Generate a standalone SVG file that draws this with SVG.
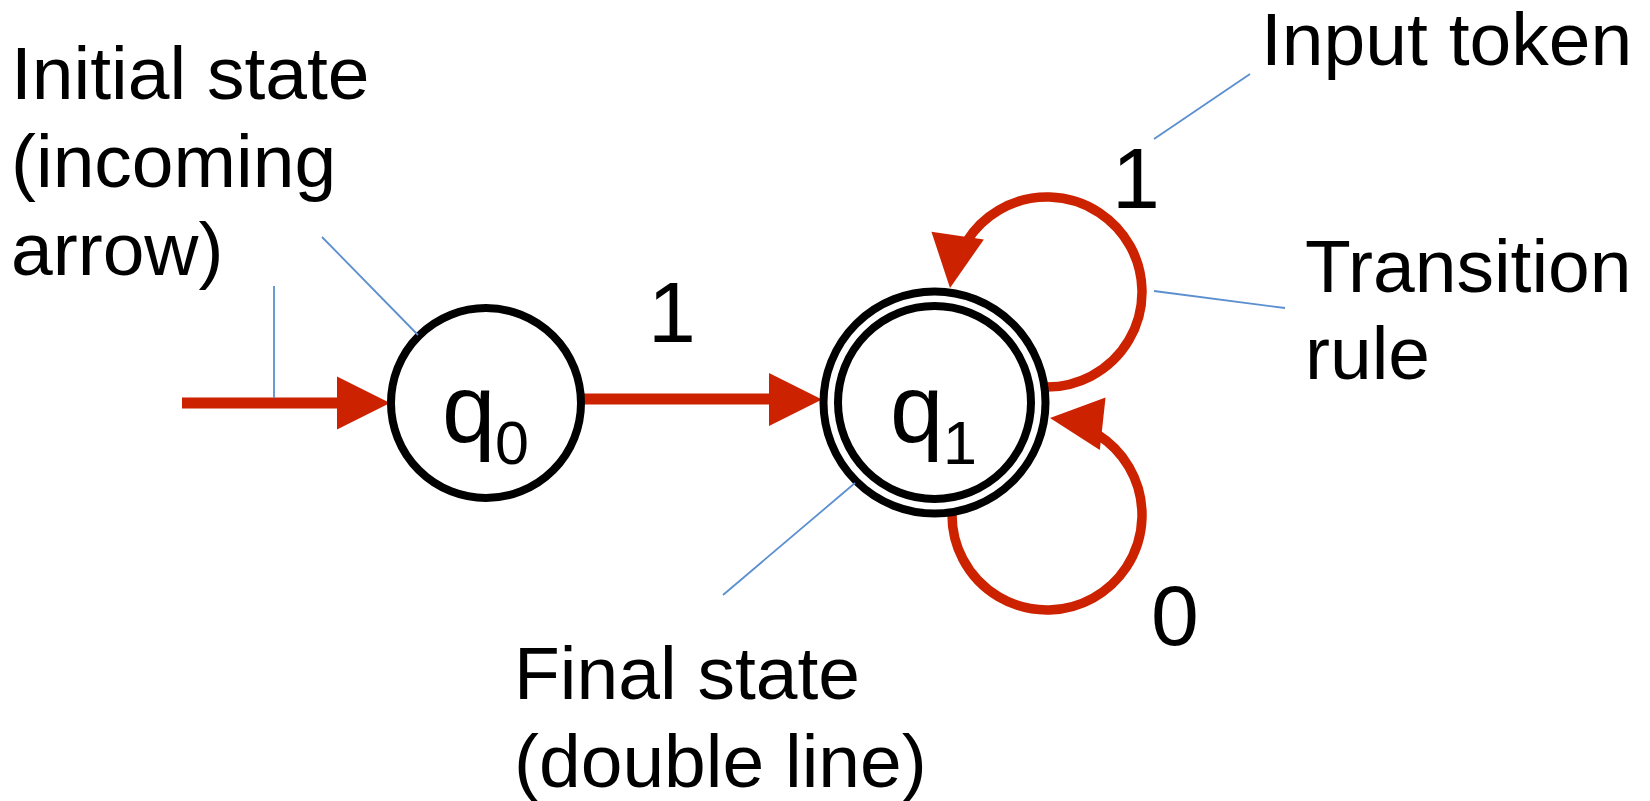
<svg xmlns="http://www.w3.org/2000/svg" xmlns:xlink="http://www.w3.org/1999/xlink" width="1650" height="801" viewBox="0 0 1650 801">
  <style>
    .state { fill: #ffffff; stroke: #000000; stroke-width: 8; }
    .edge { fill: none; stroke: #cc2200; stroke-width: 11; }
    .loop { fill: none; stroke: #cc2200; stroke-width: 9.5; }
    .head { fill: #cc2200; stroke: none; }
    .leader { stroke: #5b8fcf; stroke-width: 1.8; fill: none; }
    .lbl { font-family: "Liberation Sans", Arial, sans-serif; font-size: 75px; fill: #000000; }
    .sym { font-family: "Liberation Sans", Arial, sans-serif; font-size: 86px; fill: #000000; }
    .q { font-family: "Liberation Sans", Arial, sans-serif; font-size: 96px; fill: #000000; }
    .sub { font-family: "Liberation Sans", Arial, sans-serif; font-size: 61px; fill: #000000; }
  </style>
  <defs>
    <path id="arrowhead" d="M0,0 L-53,-26.5 L-53,26.5 Z"/>
  </defs>
  <rect x="0" y="0" width="1650" height="801" fill="#ffffff"/>

  <g id="connectors">
    <line class="edge" x1="182" y1="403" x2="340" y2="403"/>
    <use xlink:href="#arrowhead" class="head" transform="translate(390,403)"/>
    <line class="edge" x1="583" y1="399" x2="772" y2="399"/>
    <use xlink:href="#arrowhead" class="head" transform="translate(822,399.5)"/>
    <path class="loop" d="M1047,387 A95,95 0 1 0 966.4,241.7"/>
    <use xlink:href="#arrowhead" class="head" transform="translate(950,288) rotate(98.3)"/>
    <path class="loop" d="M952,515 A95,95 0 1 0 1097.3,434.4"/>
    <use xlink:href="#arrowhead" class="head" transform="translate(1050,418) rotate(186.2)"/>
    <text class="sym" x="648" y="342">1</text>
    <text class="sym" x="1112" y="208">1</text>
    <text class="sym" x="1151" y="645">0</text>
  </g>

  <g id="q0">
    <circle class="state" cx="486" cy="403" r="95"/>
    <text class="q" x="442" y="442">q</text>
    <text class="sub" x="495" y="464">0</text>
  </g>

  <g id="q1">
    <circle class="state" cx="934.5" cy="402.5" r="111"/>
    <circle class="state" cx="934.5" cy="402.5" r="96.5"/>
    <text class="q" x="890" y="442">q</text>
    <text class="sub" x="943" y="464">1</text>
  </g>

  <g id="annotations">
    <line class="leader" x1="274" y1="286" x2="274" y2="398"/>
    <line class="leader" x1="322" y1="237" x2="418" y2="335"/>
    <line class="leader" x1="855" y1="483" x2="723" y2="595"/>
    <line class="leader" x1="1154" y1="139" x2="1250" y2="74"/>
    <line class="leader" x1="1154" y1="291" x2="1285" y2="308"/>
    <text class="lbl" x="11" y="99">Initial state</text>
    <text class="lbl" x="11" y="187">(incoming</text>
    <text class="lbl" x="11" y="275">arrow)</text>
    <text class="lbl" x="1261" y="65">Input token</text>
    <text class="lbl" x="1305" y="292">Transition</text>
    <text class="lbl" x="1305" y="379">rule</text>
    <text class="lbl" x="514" y="699">Final state</text>
    <text class="lbl" x="514" y="787">(double line)</text>
  </g>
</svg>
